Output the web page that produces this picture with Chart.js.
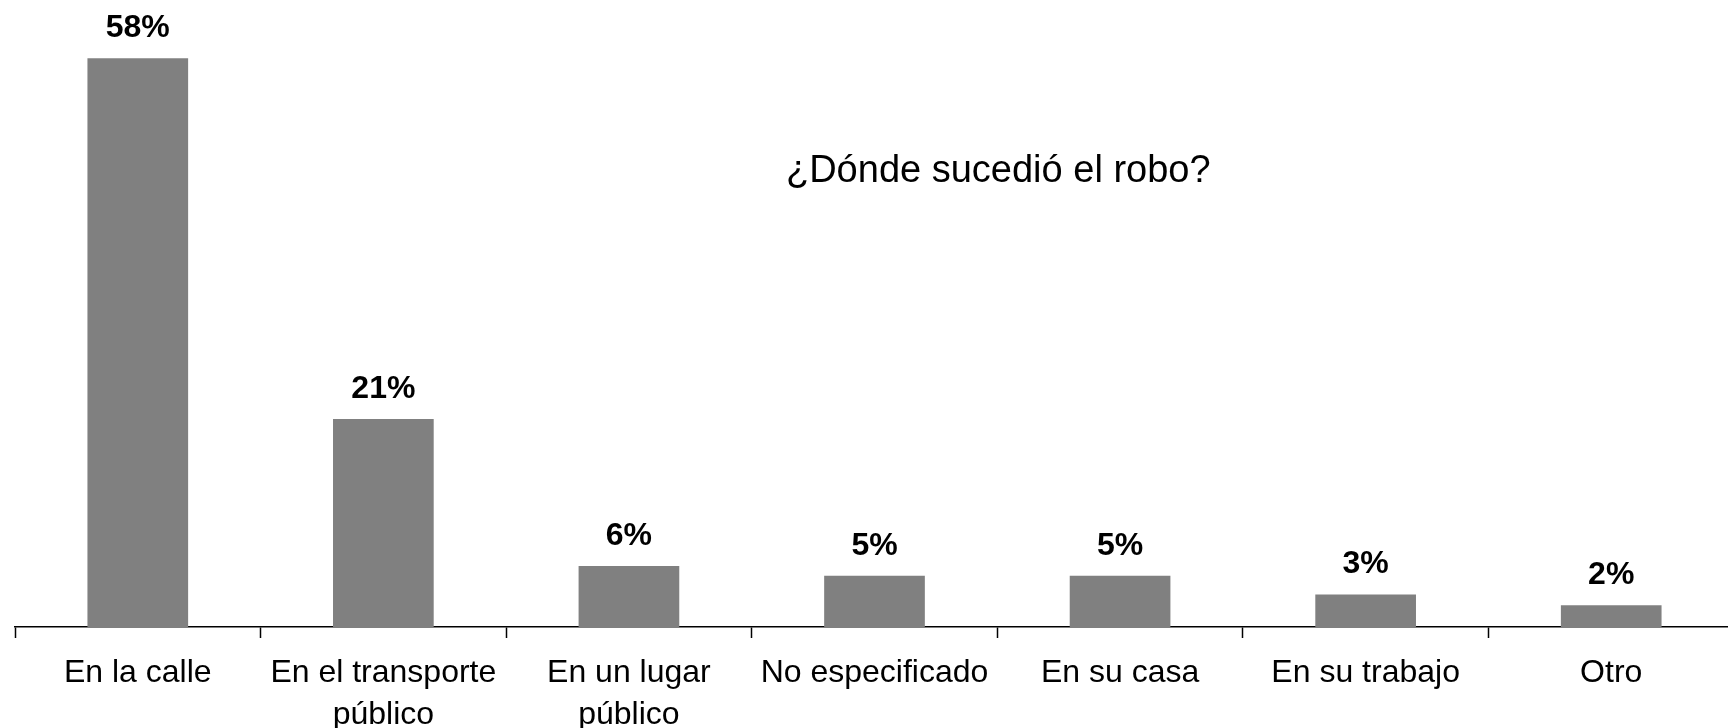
<!DOCTYPE html>
<html lang="es">
<head>
<meta charset="utf-8">
<title>¿Dónde sucedió el robo?</title>
<script src="https://cdn.jsdelivr.net/npm/chart.js@4.4.1/dist/chart.umd.min.js"></script>
<style>
    html, body { margin: 0; padding: 0; background: #ffffff; overflow: hidden; }
    #robo-chart { display: block; }
</style>
</head>
<body>
<!-- the original plot runs a few pixels past the right edge of the picture -->
<canvas id="robo-chart" width="1734" height="728"></canvas>
<script>
const chartTitle = '¿Dónde sucedió el robo?';

const categories = [
    'En la calle',
    ['En el transporte', 'público'],
    ['En un lugar', 'público'],
    'No especificado',
    'En su casa',
    'En su trabajo',
    'Otro'
];

// percentages (labels are rounded)
const percentValues = [57.7, 21.1, 6.2, 5.2, 5.2, 3.3, 2.2];

const fontFamily = '"Liberation Sans", Arial, Helvetica, sans-serif';


const barLabelsPlugin = {
    id: 'barLabels',
    afterDatasetsDraw: (chart) => {
        const ctx = chart.ctx;
        const meta = chart.getDatasetMeta(0);

        ctx.save();
        ctx.font = 'bold 32px ' + fontFamily;
        ctx.fillStyle = '#000000';
        ctx.textAlign = 'center';
        ctx.textBaseline = 'alphabetic';
        meta.data.forEach((bar, i) => {
            ctx.fillText(Math.round(percentValues[i]) + '%', bar.x, bar.y - 21);
        });
        ctx.restore();
    }
};

const innerTitlePlugin = {
    id: 'innerTitle',
    afterDraw: (chart) => {
        const ctx = chart.ctx;
        const area = chart.chartArea;

        ctx.save();
        ctx.font = '38px ' + fontFamily;
        ctx.fillStyle = '#000000';
        ctx.textAlign = 'center';
        ctx.textBaseline = 'middle';
        ctx.fillText(chartTitle, area.left + (area.right - area.left) * 0.572, 172);
        ctx.restore();
    }
};

const setupAndInitChart = () => {
    var roboChart = new Chart(document.querySelector('#robo-chart'), {
        type: 'bar',
        data: {
            labels: categories,
            datasets: [
                {
                    label: chartTitle,
                    data: percentValues,
                    backgroundColor: '#808080',
                    borderWidth: 0,
                    barPercentage: 0.41,
                    categoryPercentage: 1
                }
            ]
        },
        options: {
            responsive: false,
            animation: false,
            layout: {
                padding: { left: 15, right: 0, top: 0, bottom: 0 }
            },
            plugins: {
                legend: { display: false },
                title: { display: false },
                tooltip: { enabled: false }
            },
            scales: {
                x: {
                    offset: true,
                    grid: {
                        offset: true,
                        drawOnChartArea: false,
                        drawTicks: true,
                        tickLength: 11,
                        tickWidth: 1.5,
                        tickColor: '#000000'
                    },
                    border: {
                        display: true,
                        color: '#000000',
                        width: 1.5
                    },
                    ticks: {
                        color: '#000000',
                        autoSkip: false,
                        maxRotation: 0,
                        minRotation: 0,
                        padding: 14,
                        font: { family: fontFamily, size: 32, lineHeight: 1.32 }
                    },
                    afterFit: (scale) => {
                        scale.height = 101;
                    }
                },
                y: {
                    display: false,
                    min: 0,
                    max: 63.6
                }
            }
        },
        plugins: [barLabelsPlugin, innerTitlePlugin]
    });
}


setupAndInitChart();
</script>
</body>
</html>
